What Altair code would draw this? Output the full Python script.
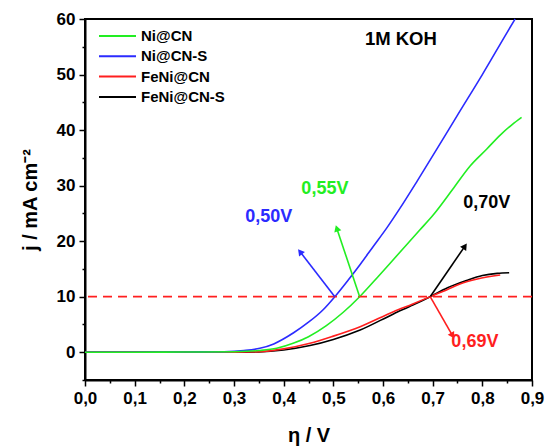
import math
import altair as alt
import pandas as pd

# ---------------- data ----------------
series_names = ["Ni@CN", "Ni@CN-S", "FeNi@CN", "FeNi@CN-S"]
series_colors = ["#22ee22", "#2b2bff", "#ff1f1f", "#000000"]

x_ni_cn = [0.0, 0.1, 0.2, 0.3, 0.35, 0.386, 0.419, 0.45, 0.486, 0.52, 0.553, 0.59, 0.63,
           0.674, 0.701, 0.74, 0.775, 0.809, 0.836, 0.86, 0.879]
y_ni_cn = [0.0, 0.0, 0.03, 0.1, 0.3, 0.7, 1.6, 2.8, 4.8, 7.2, 10.0, 13.6, 17.6,
           22.0, 24.7, 29.3, 33.5, 36.6, 39.1, 41.0, 42.3]

x_ni_cn_s = [0.0, 0.1, 0.2, 0.28, 0.32, 0.352, 0.38, 0.42, 0.45, 0.48, 0.503, 0.53, 0.554,
             0.58, 0.607, 0.634, 0.67, 0.712, 0.75, 0.80, 0.85, 0.866]
y_ni_cn_s = [0.0, 0.0, 0.05, 0.1, 0.3, 0.7, 1.5, 3.5, 5.4, 7.7, 10.0, 13.0, 15.8,
             19.0, 22.3, 25.9, 31.0, 37.1, 42.7, 50.0, 57.6, 60.0]

x_feni_cn = [0.0, 0.1, 0.2, 0.3, 0.35, 0.40, 0.453, 0.50, 0.554, 0.621, 0.66, 0.695,
             0.73, 0.755, 0.79, 0.836]
y_feni_cn = [0.0, 0.0, 0.0, 0.02, 0.1, 0.6, 1.6, 2.9, 4.6, 7.3, 8.7, 10.0,
             11.3, 12.3, 13.2, 13.9]

x_feni_cn_s = [0.0, 0.1, 0.2, 0.3, 0.35, 0.40, 0.453, 0.50, 0.554, 0.621, 0.66, 0.695,
               0.73, 0.768, 0.80, 0.83, 0.854]
y_feni_cn_s = [0.0, 0.0, 0.0, 0.0, 0.05, 0.4, 1.2, 2.3, 4.0, 6.9, 8.5, 10.0,
               11.6, 12.9, 13.8, 14.2, 14.3]

ref_current = [10]

# arrows: start (on the 10 mA line) and tip
arrow_x = [0.503, 0.553, 0.695, 0.695]
arrow_y = [10, 10, 10, 10]
arrow_x2 = [0.433, 0.507, 0.765, 0.740]
arrow_y2 = [18.1, 22.3, 19.1, 3.0]
arrow_colors = ["#2b2bff", "#22ee22", "#000000", "#ff1f1f"]

label_text = ["0,50V", "0,55V", "0,70V", "0,69V"]
label_x = [0.370, 0.483, 0.809, 0.785]
label_y = [24.3, 29.4, 26.8, 1.8]
label_colors = ["#2b2bff", "#22ee22", "#000000", "#ff1f1f"]

koh_text = ["1M KOH"]
koh_x = [0.636]
koh_y = [56.4]

x_tick_values = [0.0, 0.05, 0.1, 0.15, 0.2, 0.25, 0.3, 0.35, 0.4, 0.45, 0.5,
                 0.55, 0.6, 0.65, 0.7, 0.75, 0.8, 0.85, 0.9]
y_tick_values = [-5, 0, 5, 10, 15, 20, 25, 30, 35, 40, 45, 50, 55, 60]

# ---------------- build tables ----------------
series_data = {
    "Ni@CN": (x_ni_cn, y_ni_cn),
    "Ni@CN-S": (x_ni_cn_s, y_ni_cn_s),
    "FeNi@CN": (x_feni_cn, y_feni_cn),
    "FeNi@CN-S": (x_feni_cn_s, y_feni_cn_s),
}


def series_df(name):
    xs, ys = series_data[name]
    return pd.DataFrame({"x": xs, "y": ys, "series": [name] * len(xs), "i": list(range(len(xs)))})


W, H = 447, 361
X_DOM = [0.0, 0.9]
Y_DOM = [-5, 60]
sx = W / (X_DOM[1] - X_DOM[0])
sy = H / (Y_DOM[1] - Y_DOM[0])

angles = []
for x0, y0, x1, y1 in zip(arrow_x, arrow_y, arrow_x2, arrow_y2):
    dx = (x1 - x0) * sx
    dy = -(y1 - y0) * sy
    angles.append(math.degrees(math.atan2(dx, -dy)) % 360)

arrows = pd.DataFrame({"x": arrow_x, "y": arrow_y, "x2": arrow_x2, "y2": arrow_y2,
                       "c": arrow_colors, "angle": angles})
labels = pd.DataFrame({"t": label_text, "x": label_x, "y": label_y, "c": label_colors})

xscale = alt.Scale(domain=X_DOM, nice=False, zero=False)
yscale = alt.Scale(domain=Y_DOM, nice=False, zero=False)

x_major = "abs(datum.value*10 - round(datum.value*10)) < 0.001"
y_major = "abs(datum.value % 10) < 0.001"

x_axis = alt.Axis(
    values=x_tick_values,
    labelExpr=f"({x_major}) ? replace(format(datum.value, '.1f'), '.', ',') : ''",
    tickSize={"condition": {"test": x_major, "value": 6}, "value": 3},
    title="η / V", titlePadding=19, labelPadding=4, labelFlush=False, labelOverlap=False,
    titleFontSize=20,
)
y_axis = alt.Axis(
    values=y_tick_values,
    labelExpr=f"({y_major}) ? format(datum.value, 'd') : ''",
    tickSize={"condition": {"test": y_major, "value": 6}, "value": 3},
    title="j / mA cm⁻²", titlePadding=16, labelPadding=4, labelOverlap=False,
    titleFontSize=20,
)

color_enc = alt.Color(
    "series:N",
    scale=alt.Scale(domain=series_names, range=series_colors),
    legend=alt.Legend(
        title=None, orient="none", legendX=25, legendY=9.5,
        symbolType="M-3.7,0H3.7", symbolSize=100, symbolStrokeWidth=2,
        labelFont="Liberation Sans", labelFontSize=15, labelFontWeight="bold",
        labelColor="black", rowPadding=4.3, labelOffset=16,
    ),
)


def line_layer(name):
    return alt.Chart(series_df(name)).mark_line(strokeWidth=1.6, interpolate="monotone").encode(
        x=alt.X("x:Q", scale=xscale, axis=x_axis),
        y=alt.Y("y:Q", scale=yscale, axis=y_axis),
        color=color_enc,
        order="i:Q",
    )


ref_line = alt.Chart(pd.DataFrame({"y": ref_current})).mark_rule(
    color="#ff1f1f", strokeDash=[9, 6], strokeWidth=1.8
).encode(y=alt.Y("y:Q", scale=yscale, axis=y_axis))

arrow_shaft = alt.Chart(arrows).mark_rule(strokeWidth=1.6).encode(
    x=alt.X("x:Q", scale=xscale, axis=x_axis), y=alt.Y("y:Q", scale=yscale, axis=y_axis),
    x2="x2:Q", y2="y2:Q", color=alt.Color("c:N", scale=None),
)
arrow_head = alt.Chart(arrows).mark_point(shape="triangle-up", filled=True, size=55, opacity=1).encode(
    x=alt.X("x2:Q", scale=xscale, axis=x_axis), y=alt.Y("y2:Q", scale=yscale, axis=y_axis),
    angle=alt.Angle("angle:Q", scale=None), color=alt.Color("c:N", scale=None),
)
ann = alt.Chart(labels).mark_text(font="Liberation Sans", fontSize=18, fontWeight="bold").encode(
    x=alt.X("x:Q", scale=xscale, axis=x_axis), y=alt.Y("y:Q", scale=yscale, axis=y_axis),
    text="t:N", color=alt.Color("c:N", scale=None),
)
koh = alt.Chart(pd.DataFrame({"t": koh_text, "x": koh_x, "y": koh_y})).mark_text(
    font="Liberation Sans", fontSize=18.5, fontWeight="bold", color="black"
).encode(x=alt.X("x:Q", scale=xscale, axis=x_axis), y=alt.Y("y:Q", scale=yscale, axis=y_axis), text="t:N")

chart = alt.layer(
    line_layer("FeNi@CN-S"),
    line_layer("FeNi@CN"),
    line_layer("Ni@CN-S"),
    line_layer("Ni@CN"),
    ref_line, arrow_shaft, arrow_head, ann, koh,
).properties(
    width=W, height=H, autosize="none",
    padding={"left": 85, "top": 19, "right": 13, "bottom": 66},
).configure_view(stroke="black", strokeWidth=2).configure_axis(
    grid=False, domainColor="black", domainWidth=2, tickColor="black", tickWidth=1.5,
    labelFont="Liberation Sans", labelFontSize=17, labelFontWeight="bold", labelColor="black",
    titleFont="Liberation Sans", titleFontWeight="bold", titleColor="black",
)

chart.save("out.html", embed_options={"renderer": "svg", "actions": False})
